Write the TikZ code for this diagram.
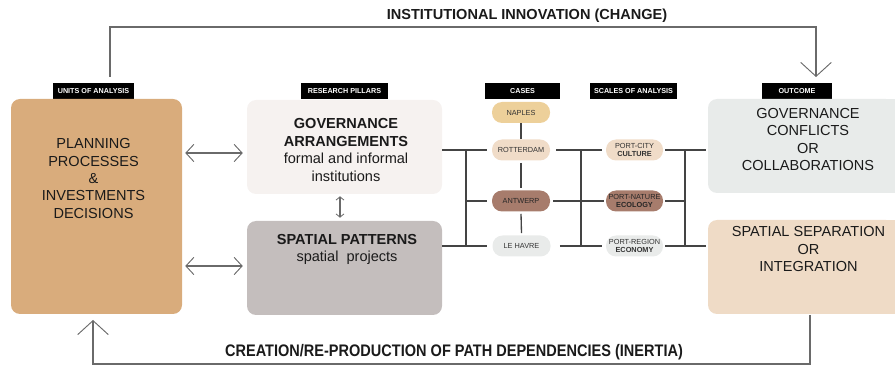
\documentclass[tikz,border=0pt]{standalone}
\usepackage{fontspec}
\setmainfont{Liberation Sans}
\usetikzlibrary{arrows.meta}
\newdimen\pxu \pxu=0.75pt
\definecolor{plancol}{HTML}{D9AC7C}
\definecolor{govcol}{HTML}{F6F2F0}
\definecolor{spcol}{HTML}{C4BEBD}
\definecolor{outacol}{HTML}{E8EBEA}
\definecolor{outbcol}{HTML}{EFDBC6}
\definecolor{napcol}{HTML}{EDD09A}
\definecolor{lightcol}{HTML}{F0DCC8}
\definecolor{browncol}{HTML}{A77C6C}
\definecolor{greycol}{HTML}{E9EBEA}
\definecolor{conncol}{HTML}{444444}
\definecolor{arrcol}{HTML}{6A6A6A}
\definecolor{txtcol}{HTML}{1A1A1A}
\definecolor{pilltxt}{HTML}{333333}
\begin{document}
\begin{tikzpicture}[x=0.75pt,y=-0.75pt,
  lbl/.style={fill=black,text=white,font=\fontsize{5.4}{6}\selectfont\bfseries,inner sep=0pt,minimum width=#1,minimum height=16\pxu},
  bigbox/.style={rounded corners=9\pxu,inner sep=0pt,draw=none},
  bigtxt/.style={align=center,text=txtcol,font=\fontsize{10.9}{13.1}\selectfont,inner sep=0pt},
  pill/.style={rounded corners=10\pxu,minimum width=58\pxu,minimum height=21\pxu,inner sep=0pt,align=center,text=pilltxt,font=\fontsize{5.5}{6.2}\selectfont},
  conn/.style={draw=conncol,line width=1pt},
  dbl/.style={draw=arrcol,line width=1.1pt,{Straight Barb[length=6pt,width=13pt,line width=0.7pt]}-{Straight Barb[length=6pt,width=13pt,line width=0.7pt]}},
  sdbl/.style={draw=arrcol,line width=1pt,{Straight Barb[length=2.5pt,width=6pt,line width=0.6pt]}-{Straight Barb[length=2.5pt,width=6pt,line width=0.6pt]}},
  bigarr/.style={draw=arrcol,line width=1pt,-{Straight Barb[length=10.5pt,width=23pt,line width=0.7pt]}},
  title/.style={font=\fontsize{10.9}{13}\selectfont\bfseries,text=txtcol,inner sep=0pt}
]
\useasboundingbox (0,0) rectangle (895,366);
% title labels
\node[title] (ttop) at (527,16) {INSTITUTIONAL INNOVATION (CHANGE)};
\node[title,yscale=1.15] (tbot) at (454,352) {CREATION/RE-PRODUCTION OF PATH DEPENDENCIES (INERTIA)};
% black labels
\node[lbl=81\pxu] (lunits) at (93.5,91) {UNITS OF ANALYSIS};
\node[lbl=87\pxu] (lpill) at (344.5,91) {RESEARCH PILLARS};
\node[lbl=75\pxu] (lcases) at (522.5,91) {CASES};
\node[lbl=87\pxu] (lscales) at (633.5,91) {SCALES OF ANALYSIS};
\node[lbl=70\pxu] (lout) at (797,91) {OUTCOME};
% big boxes
\node[bigbox,fill=plancol,minimum width=171\pxu,minimum height=215\pxu] (plan) at (96.5,206.5) {};
\node[bigtxt] (plantext) at (93.5,178.5) {PLANNING\\PROCESSES\\\&\\INVESTMENTS\\DECISIONS};
\node[bigbox,fill=govcol,minimum width=195\pxu,minimum height=94\pxu] (gov) at (344.5,147) {};
\node[bigtxt] (govtext) at (346,150) {\textbf{GOVERNANCE}\\\textbf{ARRANGEMENTS}\\formal and informal\\institutions};
\node[bigbox,fill=spcol,minimum width=195\pxu,minimum height=94\pxu] (sp) at (344.5,268) {};
\node[bigtxt] (sptext) at (347,249.5) {\textbf{SPATIAL PATTERNS}\\spatial\ \ projects};
\node[bigbox,fill=outacol,minimum width=187\pxu,minimum height=94\pxu] (out1) at (801.5,146) {};
\fill[outacol] (out1.north) rectangle (out1.south east);
\node[bigtxt] (out1text) at (808,139.5) {GOVERNANCE\\CONFLICTS\\OR\\COLLABORATIONS};
\node[bigbox,fill=outbcol,minimum width=187\pxu,minimum height=94\pxu] (out2) at (801.5,267) {};
\fill[outbcol] (out2.north) rectangle (out2.south east);
\node[bigtxt] (out2text) at (808.5,249) {SPATIAL SEPARATION\\OR\\INTEGRATION};
% case pills
\node[pill,fill=napcol] (nap) at (521,112.5) {NAPLES};
\node[pill,fill=lightcol] (rot) at (521,150) {ROTTERDAM};
\node[pill,fill=browncol,text=black!85] (ant) at (521,201) {ANTWERP};
\node[pill,fill=greycol] (leh) at (521.5,246) {LE HAVRE};
% scale pills
\node[pill,fill=lightcol,minimum width=57\pxu] (pc) at (634.5,150) {PORT-CITY\\\textbf{CULTURE}};
\node[pill,fill=browncol,minimum width=57\pxu,text=black!85] (pn) at (634.5,201) {PORT-NATURE\\\textbf{ECOLOGY}};
\node[pill,fill=greycol,minimum width=57\pxu] (pr) at (634.5,246) {PORT-REGION\\\textbf{ECONOMY}};
% case verticals
\draw[conn] (nap.south) -- (rot.north);
\draw[conn] ([yshift=-2\pxu]rot.south) -- ([yshift=2\pxu]ant.north);
\draw[conn] ([yshift=-2\pxu]ant.south) -- ([yshift=2\pxu]leh.north);
% left bracket
\draw[conn] (gov.east |- rot.west) -- ([xshift=-5\pxu]rot.west);
\draw[conn] (sp.east |- leh.west) -- ([xshift=-5\pxu]leh.west);
\draw[conn] (rot.west -| 466,0) -- (leh.west -| 466,0);
\draw[conn] (ant.west -| 466,0) -- ([xshift=-5\pxu]ant.west);
% middle bracket
\draw[conn] ([xshift=6\pxu]rot.east) -- ([xshift=-4\pxu]pc.west);
\draw[conn] (rot.east -| 581,0) -- (leh.east -| 581,0);
\draw[conn] ([xshift=3\pxu]ant.east) -- ([xshift=-2\pxu]pn.west);
\draw[conn] ([xshift=9\pxu]leh.east) -- ([xshift=-4\pxu]pr.west);
% right bracket
\draw[conn] ([xshift=2\pxu]pc.east) -- ([xshift=-2\pxu]out1.west |- pc.east);
\draw[conn] (pc.east -| 685,0) -- (pr.east -| 685,0);
\draw[conn] ([xshift=2\pxu]pn.east) -- (pn.east -| 685,0);
\draw[conn] ([xshift=2\pxu]pr.east) -- ([xshift=-2\pxu]out2.west |- pr.east);
% double arrows
\draw[dbl,shorten <=3\pxu,shorten >=4\pxu] (plan.east |- 0,153) -- (gov.west |- 0,153);
\draw[dbl,shorten <=3\pxu,shorten >=4\pxu] (plan.east |- 0,266) -- (sp.west |- 0,266);
\draw[sdbl,shorten <=2\pxu,shorten >=3\pxu] (gov.south -| 340,0) -- (sp.north -| 340,0);
% feedback loops
\coordinate (topstart) at (110,77);
\coordinate (topend) at (816,77);
\draw[bigarr] (topstart) -- ++(0,-50) -| (topend);
\coordinate (botstart) at (810,315);
\coordinate (botend) at (93,320);
\draw[bigarr] (botstart) -- ++(0,49) -| (botend);
\end{tikzpicture}
\end{document}
